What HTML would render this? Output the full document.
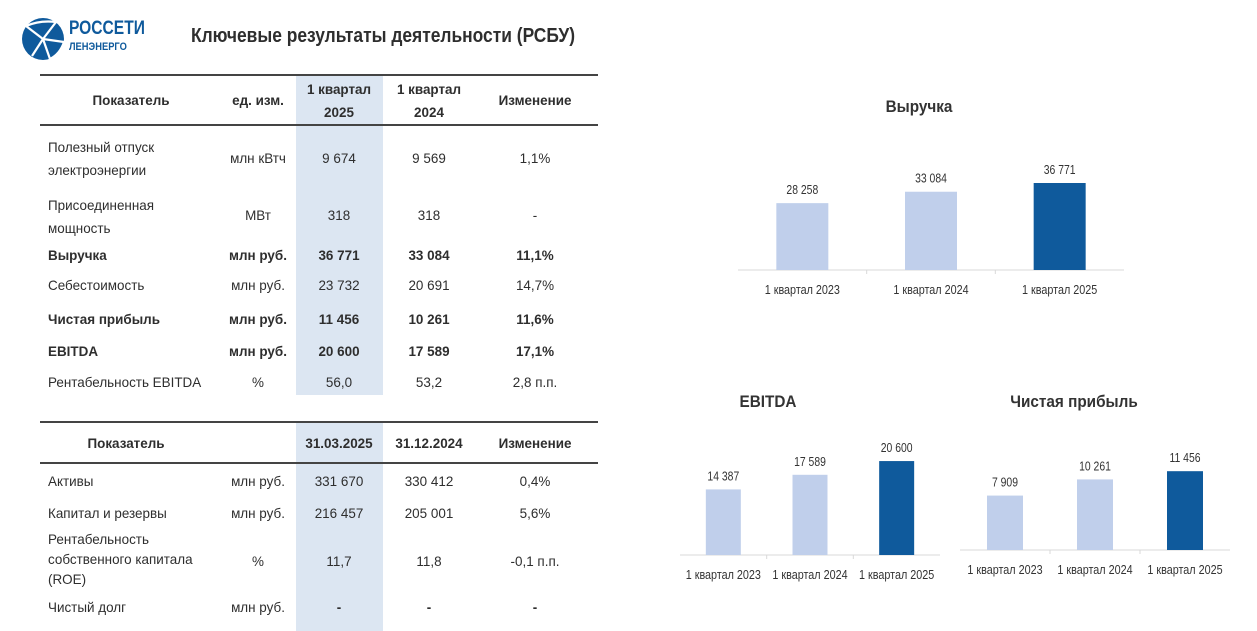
<!DOCTYPE html>
<html><head><meta charset="utf-8"><style>
body{margin:0;width:1257px;height:631px;background:#fff;position:relative;overflow:hidden;font-family:"Liberation Sans Narrow","Liberation Sans","DejaVu Sans Condensed",sans-serif;color:#2e2e2e}
.a{position:absolute;white-space:nowrap;transform-origin:0 0;transform:scaleX(.96)}
.c{text-align:center;transform:translateX(-50%) scaleX(.96);transform-origin:50% 0}
.b{font-weight:bold}
.hl{position:absolute;background:#dce6f2}
.ln{position:absolute;height:2px;background:#444;left:40px;width:558px}
.t{font-size:14px;line-height:23px}
</style></head><body>
<svg style="position:absolute;left:20px;top:16px" width="46" height="46" viewBox="0 0 46 46">
<circle cx="23" cy="23" r="21" fill="#0f5a9c"/>
<g stroke="#fff" stroke-width="2.2" fill="none"><line x1="23" y1="23" x2="6" y2="10"/><line x1="23" y1="23" x2="12" y2="40"/><line x1="23" y1="23" x2="30" y2="43"/><line x1="23" y1="23" x2="44" y2="26"/><line x1="23" y1="23" x2="36" y2="6"/><path d="M6 10 Q20 4 36 6"/><path d="M44 26 Q40 38 30 43"/></g></svg>
<div class="a b" style="left:69px;top:18px;font-size:19px;color:#0f5a9c;transform:scaleX(.82)">РОССЕТИ</div>
<div class="a b" style="left:69px;top:41px;font-size:11px;color:#0f5a9c;transform:scaleX(.85)">ЛЕНЭНЕРГО</div>
<div class="a b" style="left:191px;top:25px;font-size:20px;transform:scaleX(.87)">Ключевые результаты деятельности (РСБУ)</div>

<div class="hl" style="left:296px;top:75px;width:87px;height:320px"></div>
<div class="hl" style="left:296px;top:422px;width:87px;height:209px"></div>
<div class="ln" style="top:74px"></div><div class="ln" style="top:124px"></div>
<div class="ln" style="top:421px"></div><div class="ln" style="top:462px"></div>

<div>
<div class="a c b t" style="left:131px;top:89px">Показатель</div>
<div class="a c b t" style="left:258px;top:89px">ед. изм.</div>
<div class="a c b t" style="left:339px;top:78px;text-align:center">1 квартал<br>2025</div>
<div class="a c b t" style="left:429px;top:78px;text-align:center">1 квартал<br>2024</div>
<div class="a c b t" style="left:535px;top:89px">Изменение</div>

<div class="a t" style="left:48px;top:136px">Полезный отпуск<br>электроэнергии</div>
<div class="a c t" style="left:258px;top:147px">млн кВтч</div><div class="a c t" style="left:339px;top:147px">9 674</div><div class="a c t" style="left:429px;top:147px">9 569</div><div class="a c t" style="left:535px;top:147px">1,1%</div>
<div class="a t" style="left:48px;top:194px">Присоединенная<br>мощность</div>
<div class="a c t" style="left:258px;top:204px">МВт</div><div class="a c t" style="left:339px;top:204px">318</div><div class="a c t" style="left:429px;top:204px">318</div><div class="a c t" style="left:535px;top:204px">-</div>
<div class="a t b" style="left:48px;top:244px">Выручка</div>
<div class="a c t b" style="left:258px;top:244px">млн руб.</div><div class="a c t b" style="left:339px;top:244px">36 771</div><div class="a c t b" style="left:429px;top:244px">33 084</div><div class="a c t b" style="left:535px;top:244px">11,1%</div>
<div class="a t" style="left:48px;top:274px">Себестоимость</div>
<div class="a c t" style="left:258px;top:274px">млн руб.</div><div class="a c t" style="left:339px;top:274px">23 732</div><div class="a c t" style="left:429px;top:274px">20 691</div><div class="a c t" style="left:535px;top:274px">14,7%</div>
<div class="a t b" style="left:48px;top:308px">Чистая прибыль</div>
<div class="a c t b" style="left:258px;top:308px">млн руб.</div><div class="a c t b" style="left:339px;top:308px">11 456</div><div class="a c t b" style="left:429px;top:308px">10 261</div><div class="a c t b" style="left:535px;top:308px">11,6%</div>
<div class="a t b" style="left:48px;top:340px">EBITDA</div>
<div class="a c t b" style="left:258px;top:340px">млн руб.</div><div class="a c t b" style="left:339px;top:340px">20 600</div><div class="a c t b" style="left:429px;top:340px">17 589</div><div class="a c t b" style="left:535px;top:340px">17,1%</div>
<div class="a t" style="left:48px;top:371px">Рентабельность EBITDA</div>
<div class="a c t" style="left:258px;top:371px">%</div><div class="a c t" style="left:339px;top:371px">56,0</div><div class="a c t" style="left:429px;top:371px">53,2</div><div class="a c t" style="left:535px;top:371px">2,8 п.п.</div>
</div>

<div>
<div class="a c b t" style="left:126px;top:432px">Показатель</div>
<div class="a c b t" style="left:339px;top:432px">31.03.2025</div>
<div class="a c b t" style="left:429px;top:432px">31.12.2024</div>
<div class="a c b t" style="left:535px;top:432px">Изменение</div>
<div class="a t" style="left:48px;top:470px">Активы</div>
<div class="a c t" style="left:258px;top:470px">млн руб.</div><div class="a c t" style="left:339px;top:470px">331 670</div><div class="a c t" style="left:429px;top:470px">330 412</div><div class="a c t" style="left:535px;top:470px">0,4%</div>
<div class="a t" style="left:48px;top:502px">Капитал и резервы</div>
<div class="a c t" style="left:258px;top:502px">млн руб.</div><div class="a c t" style="left:339px;top:502px">216 457</div><div class="a c t" style="left:429px;top:502px">205 001</div><div class="a c t" style="left:535px;top:502px">5,6%</div>
<div class="a t" style="left:48px;top:529px;line-height:20px">Рентабельность<br>собственного капитала<br>(ROE)</div>
<div class="a c t" style="left:258px;top:550px">%</div><div class="a c t" style="left:339px;top:550px">11,7</div><div class="a c t" style="left:429px;top:550px">11,8</div><div class="a c t" style="left:535px;top:550px">-0,1 п.п.</div>
<div class="a t" style="left:48px;top:596px">Чистый долг</div>
<div class="a c t" style="left:258px;top:596px">млн руб.</div><div class="a c t b" style="left:339px;top:596px">-</div><div class="a c t b" style="left:429px;top:596px">-</div><div class="a c t b" style="left:535px;top:596px">-</div>
</div>

<svg id="ch" style="position:absolute;left:0;top:0" width="1257" height="631"></svg>
<script>
const categories=["1 квартал 2023","1 квартал 2024","1 квартал 2025"];
const revenueValues=[28258,33084,36771];
const ebitdaValues=[14387,17589,20600];
const profitValues=[7909,10261,11456];
const valueLabelsRevenue=["28 258","33 084","36 771"];
const valueLabelsEbitda=["14 387","17 589","20 600"];
const valueLabelsProfit=["7 909","10 261","11 456"];
const NS="http://www.w3.org/2000/svg";
const svg=document.getElementById('ch');
function mk(t,a){const e=document.createElementNS(NS,t);for(const k in a)e.setAttribute(k,a[k]);svg.appendChild(e);return e;}
function squeeze(el,f){const w=el.getComputedTextLength();el.setAttribute('textLength',w*f);el.setAttribute('lengthAdjust','spacingAndGlyphs');}
const FF='Liberation Sans Narrow, Liberation Sans, sans-serif';
function chart(name,title,titleX,titleY,vals,labels,x0,x1,base,scale,barW){
  const t=mk('text',{x:titleX,y:titleY,'text-anchor':'middle','font-size':17,'font-weight':'bold',fill:'#333','font-family':FF});
  t.textContent=title;squeeze(t,.9);
  
  
  const ax=mk('line',{x1:x0,x2:x1,y1:base,y2:base,stroke:'#d9d9d9','stroke-width':1});
  
  
  const band=(x1-x0)/vals.length;
  vals.forEach((v,i)=>{
    const cx=x0+band*(i+0.5),h=v*scale;
    const r=mk('rect',{x:cx-barW/2,y:base-h,width:barW,height:h,fill:i==vals.length-1?'#0f5a9c':'#c0cfeb'});
    
    
    const l=mk('text',{x:cx,y:base-h-9,'text-anchor':'middle','font-size':13,fill:'#333','font-family':FF});
    l.textContent=labels[i];squeeze(l,.8);
    
    
    const c=mk('text',{x:cx,y:base+24,'text-anchor':'middle','font-size':13,fill:'#333','font-family':FF});
    c.textContent=categories[i];squeeze(c,.83);
    
    
    if(i>0){mk('line',{x1:x0+band*i,x2:x0+band*i,y1:base,y2:base+4,stroke:'#d9d9d9'});}
  });
}
chart('revenue','Выручка',919,112,revenueValues,valueLabelsRevenue,738,1124,270,0.002366,52);
chart('ebitda','EBITDA',768,407,ebitdaValues,valueLabelsEbitda,680,940,555,0.00456,35);
chart('profit','Чистая прибыль',1074,407,profitValues,valueLabelsProfit,960,1230,550,0.00688,36);
</script>
</body></html>
